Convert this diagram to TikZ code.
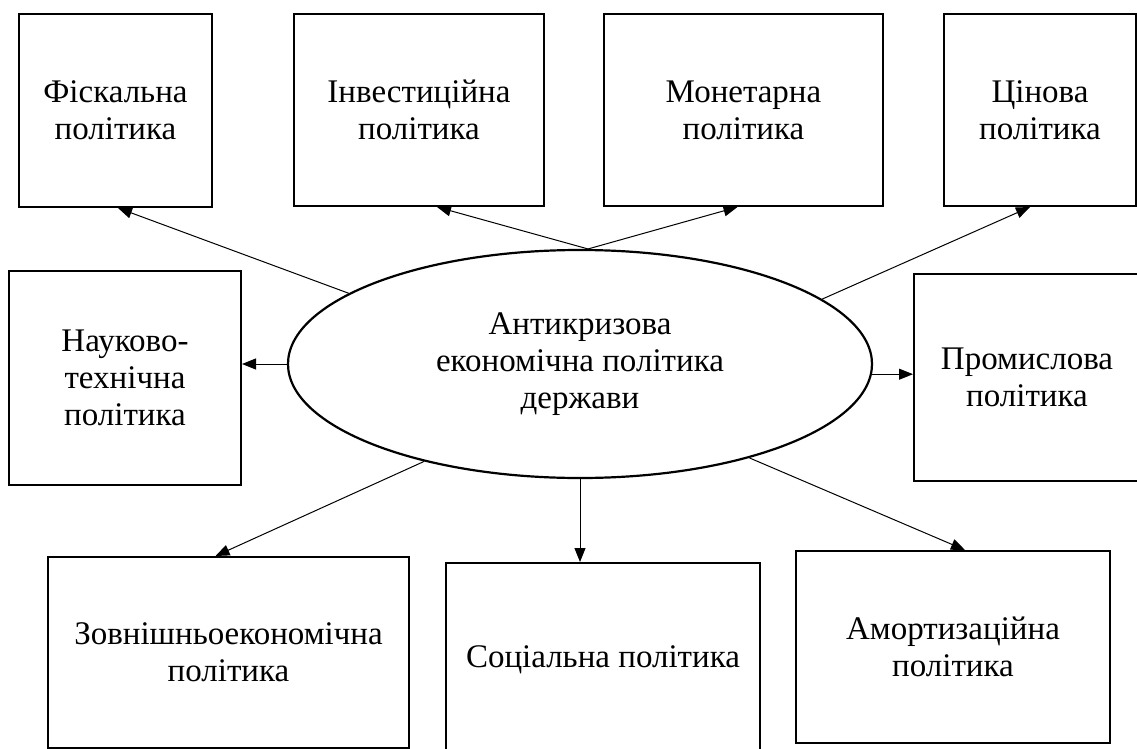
\documentclass[tikz,border=0pt]{standalone}
\usepackage{fontspec}
\setmainfont{Liberation Serif}
\usetikzlibrary{arrows.meta,shapes.geometric}
\begin{document}
\begin{tikzpicture}[x=1pt,y=-1pt,
  txt/.style={align=center,font=\fontsize{33}{37}\selectfont},
  box/.style={txt,draw,line width=2pt,fill=white,inner sep=0pt},
  oval/.style={txt,draw,ellipse,line width=2.2pt,inner sep=0pt,minimum width=584pt,minimum height=228pt},
  arr/.style={line width=1pt,-{Triangle[length=14pt,width=11pt]}}]
\useasboundingbox (0,0) rectangle (1137,749);
\clip (0,0) rectangle (1137,749);
\fill[white] (0,0) rectangle (1137,749);
% boxes
\node[box,minimum width=193pt,minimum height=193pt] (fisk) at (115.5,110.5) {Фіскальна\\політика};
\node[box,minimum width=250pt,minimum height=192pt] (inv) at (419,110) {Інвестиційна\\політика};
\node[box,minimum width=279pt,minimum height=192pt] (mon) at (743.5,110) {Монетарна\\політика};
\node[box,minimum width=192pt,minimum height=192pt] (cin) at (1040,110) {Цінова\\політика};
\node[box,minimum width=232pt,minimum height=214pt] (nauk) at (125,377.5) {Науково-\\технічна\\політика};
\node[box,minimum width=226pt,minimum height=207pt] (prom) at (1027,377.5) {Промислова\\політика};
\node[box,minimum width=361pt,minimum height=191pt] (zovn) at (228.5,652.5) {Зовнішньоекономічна\\політика};
\node[box,minimum width=314pt,minimum height=194pt] (soc) at (603,660) {Соціальна політика};
\node[box,minimum width=314pt,minimum height=192pt] (amort) at (953,647) {Амортизаційна\\політика};
% central ellipse
\node[oval] (ell) at (580,364) {Антикризова\\економічна політика\\держави};
% connectors
\draw[arr] (ell.163) -- ([xshift=2.5pt]fisk.south);
\draw[arr] (ell.86) -- ([xshift=18pt]inv.south);
\draw[arr] (ell.86) -- ([xshift=-6pt]mon.south);
\draw[arr] (ell.15) -- ([xshift=-10pt]cin.south);
\draw[arr] (ell.west) -- (ell.west -| nauk.east);
\draw[arr] (ell.-2.5) -- (ell.-2.5 -| prom.west);
\draw[arr] (ell.212) -- ([xshift=-13pt]zovn.north);
\draw[arr] (ell.south) -- (ell.south |- soc.north);
\draw[arr] (ell.-29) -- ([xshift=12pt]amort.north);
\end{tikzpicture}
\end{document}
